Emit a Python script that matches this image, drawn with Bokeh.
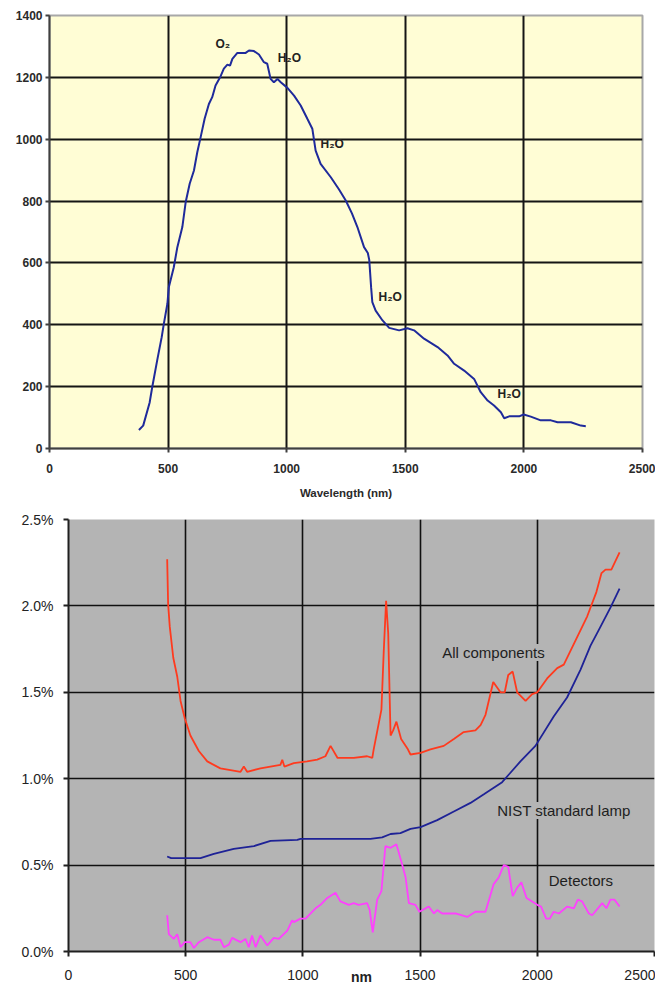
from bokeh.plotting import figure
from bokeh.models import FixedTicker, PrintfTickFormatter, Range1d, Label
from bokeh.embed import file_html
from bokeh.resources import INLINE

# ---- Solar spectral irradiance at ground level ----
sun_wl = [377, 395, 422, 433, 454, 473, 482, 497, 503, 524, 539, 560, 574, 591, 609,
          623, 637, 654, 672, 686, 700, 721, 735, 750, 761, 771, 792, 827, 841, 862,
          883, 904, 918, 932, 946, 961, 975, 1003, 1031, 1059, 1087, 1108, 1122, 1143,
          1186, 1220, 1249, 1275, 1298, 1326, 1342, 1348, 1356, 1361, 1375, 1404, 1432,
          1474, 1509, 1537, 1579, 1636, 1678, 1706, 1748, 1790, 1818, 1847, 1874, 1903,
          1917, 1938, 1980, 1999, 2029, 2071, 2114, 2142, 2198, 2240, 2261]
sun_irr = [60, 74, 148, 198, 285, 360, 403, 468, 521, 586, 651, 716, 796, 856, 899,
           958, 1006, 1066, 1114, 1136, 1174, 1203, 1228, 1241, 1238, 1260, 1279, 1279, 1287, 1285,
           1274, 1249, 1244, 1195, 1184, 1195, 1184, 1166, 1141, 1109, 1066, 1034, 963, 920,
           877, 838, 802, 760, 716, 651, 632, 610, 520, 473, 446, 414, 390,
           382, 389, 382, 355, 328, 301, 274, 252, 225, 182, 155, 139, 117,
           98, 104, 104, 110, 103, 91, 91, 85, 85, 74, 72]

# absorption band labels
band_text = ["O\u2082", "H\u2082O", "H\u2082O", "H\u2082O", "H\u2082O"]
band_x = [700, 962, 1143, 1387, 1889]
band_y = [1309, 1264, 983, 489, 177]

# ---- Calibration uncertainty (%) ----
all_wl = [421, 425, 432, 447, 464, 478, 496, 520, 556, 592, 648, 691, 734, 748, 762,
          819, 904, 912, 921, 961, 1018, 1061, 1096, 1118, 1148, 1217, 1274, 1296, 1302,
          1335, 1345, 1355, 1364, 1374, 1385, 1399, 1419, 1448, 1459, 1502, 1544, 1601,
          1644, 1686, 1736, 1758, 1779, 1812, 1843, 1861, 1876, 1895, 1914, 1950, 1978,
          2000, 2042, 2085, 2113, 2156, 2213, 2252, 2274, 2291, 2316, 2351]
all_pct = [2.27, 2.01, 1.88, 1.70, 1.59, 1.45, 1.35, 1.25, 1.16, 1.10, 1.06, 1.05, 1.04, 1.07, 1.04,
           1.06, 1.08, 1.11, 1.07, 1.09, 1.10, 1.11, 1.13, 1.19, 1.12, 1.12, 1.13, 1.12, 1.17,
           1.40, 1.74, 2.03, 1.84, 1.25, 1.28, 1.33, 1.23, 1.17, 1.14, 1.15, 1.17, 1.19,
           1.23, 1.27, 1.28, 1.31, 1.37, 1.56, 1.50, 1.50, 1.60, 1.62, 1.50, 1.45, 1.49,
           1.50, 1.58, 1.64, 1.66, 1.78, 1.94, 2.08, 2.19, 2.21, 2.21, 2.31]

lamp_wl = [421, 438, 563, 620, 705, 791, 862, 976, 990, 1288, 1338, 1374, 1416, 1459,
           1502, 1573, 1644, 1715, 1772, 1850, 1928, 1992, 2070, 2127, 2184, 2227, 2262,
           2312, 2351]
lamp_pct = [0.55, 0.54, 0.54, 0.565, 0.594, 0.61, 0.64, 0.646, 0.652, 0.652, 0.66, 0.68, 0.685, 0.71,
            0.72, 0.76, 0.81, 0.86, 0.91, 0.98, 1.10, 1.19, 1.36, 1.47, 1.63, 1.77, 1.86,
            1.99, 2.10]

det_wl = [421, 428, 449, 464, 478, 496, 520, 535, 556, 592, 620, 648, 663, 684, 698,
          734, 755, 769, 783, 798, 819, 848, 876, 897, 933, 954, 961, 990, 1011, 1054,
          1075, 1104, 1139, 1160, 1196, 1217, 1238, 1274, 1285, 1298, 1317, 1335, 1352,
          1374, 1399, 1424, 1438, 1452, 1480, 1497, 1537, 1559, 1573, 1594, 1651, 1701,
          1736, 1779, 1814, 1836, 1857, 1876, 1895, 1914, 1932, 1954, 2000, 2016, 2038,
          2053, 2070, 2092, 2127, 2156, 2173, 2191, 2220, 2234, 2277, 2295, 2312, 2329, 2351]
det_pct = [0.21, 0.10, 0.073, 0.10, 0.025, 0.054, 0.054, 0.02, 0.054, 0.083, 0.068, 0.068, 0.025, 0.04, 0.079,
           0.054, 0.073, 0.025, 0.093, 0.025, 0.093, 0.035, 0.079, 0.073, 0.12, 0.18, 0.17, 0.19, 0.19, 0.25,
           0.27, 0.31, 0.34, 0.29, 0.27, 0.28, 0.27, 0.28, 0.24, 0.11, 0.30, 0.35, 0.61,
           0.60, 0.62, 0.50, 0.43, 0.28, 0.27, 0.23, 0.26, 0.22, 0.24, 0.22, 0.22, 0.20,
           0.23, 0.23, 0.39, 0.43, 0.50, 0.49, 0.32, 0.37, 0.40, 0.31, 0.27, 0.26, 0.19,
           0.19, 0.23, 0.22, 0.26, 0.25, 0.30, 0.29, 0.22, 0.21, 0.28, 0.25, 0.30, 0.30, 0.26]

curve_text = ["All components", "NIST standard lamp", "Detectors"]
curve_x = [1594, 1829, 2049]
curve_y = [1.73, 0.816, 0.41]

x_ticks = [0, 500, 1000, 1500, 2000, 2500]
irr_ticks = [0, 200, 400, 600, 800, 1000, 1200, 1400]
pct_ticks = [0, 0.5, 1.0, 1.5, 2.0, 2.5]

FONT = "Liberation Sans"

# ---------------- upper panel ----------------
top = figure(width=655, height=505, x_range=Range1d(0, 2500), y_range=Range1d(0, 1400),
             output_backend="svg", toolbar_location=None,
             min_border_left=49, min_border_right=13, min_border_top=15, min_border_bottom=57)
top.background_fill_color = "#FFFDD5"
top.border_fill_color = "white"
top.outline_line_color = "#A8A8A8"
top.outline_line_width = 2
top.xaxis.ticker = FixedTicker(ticks=x_ticks)
top.yaxis.ticker = FixedTicker(ticks=irr_ticks)
for g in (top.xgrid, top.ygrid):
    g.grid_line_color = "#151515"
    g.grid_line_width = 2
for ax in (top.xaxis, top.yaxis):
    ax.axis_line_color = "#404040"
    ax.axis_line_width = 2
    ax.major_tick_line_color = "#404040"
    ax.major_tick_line_width = 2
    ax.major_tick_in = 0
    ax.major_tick_out = 4
    ax.minor_tick_line_color = None
    ax.major_label_text_font = FONT
    ax.major_label_text_font_style = "bold"
    ax.major_label_text_font_size = "12px"
    ax.major_label_text_color = "#2a2a2a"
top.xaxis.major_label_standoff = 11
top.yaxis.major_label_standoff = 3
top.xaxis.axis_label = "Wavelength (nm)"
top.xaxis.axis_label_text_font = FONT
top.xaxis.axis_label_text_font_style = "bold"
top.xaxis.axis_label_text_font_size = "11.5px"
top.xaxis.axis_label_text_color = "#2a2a2a"
top.xaxis.axis_label_standoff = 11

top.line(sun_wl, sun_irr, line_color="#1F2A9B", line_width=2)
for t, x, y in zip(band_text, band_x, band_y):
    top.add_layout(Label(x=x, y=y, text=t, text_font=FONT, text_font_style="bold",
                         text_font_size="12px", text_color="#222222",
                         text_align="left", text_baseline="middle"))

# ---------------- lower panel ----------------
bot = figure(width=655, height=484, x_range=Range1d(0, 2500), y_range=Range1d(0, 2.5),
             output_backend="svg", toolbar_location=None,
             min_border_left=68, min_border_right=1, min_border_top=14, min_border_bottom=38)
bot.background_fill_color = "#B4B4B4"
bot.border_fill_color = "white"
bot.outline_line_color = None
bot.xaxis.ticker = FixedTicker(ticks=x_ticks)
bot.yaxis.ticker = FixedTicker(ticks=pct_ticks)
bot.yaxis.formatter = PrintfTickFormatter(format="%.1f%%")
for g in (bot.xgrid, bot.ygrid):
    g.grid_line_color = "#101010"
    g.grid_line_width = 1.6
for ax in (bot.xaxis, bot.yaxis):
    ax.axis_line_color = "#202020"
    ax.axis_line_width = 2
    ax.major_tick_line_color = "#202020"
    ax.major_tick_line_width = 2
    ax.major_tick_in = 0
    ax.major_tick_out = 5
    ax.minor_tick_line_color = None
    ax.major_label_text_font = FONT
    ax.major_label_text_font_size = "14px"
    ax.major_label_text_color = "#222222"
bot.xaxis.major_label_standoff = 13
bot.yaxis.major_label_standoff = 10
bot.xaxis.axis_label = "nm"
bot.xaxis.axis_label_text_font = FONT
bot.xaxis.axis_label_text_font_style = "bold"
bot.xaxis.axis_label_text_font_size = "14px"
bot.xaxis.axis_label_text_color = "#222222"
bot.xaxis.axis_label_standoff = -14

bot.line(all_wl, all_pct, line_color="#FF3A1E", line_width=1.8)
bot.line(lamp_wl, lamp_pct, line_color="#1E2296", line_width=1.8)
bot.line(det_wl, det_pct, line_color="#FF40FF", line_width=1.8)
for t, x, y in zip(curve_text, curve_x, curve_y):
    bot.add_layout(Label(x=x, y=y, text=t, text_font=FONT, text_font_size="15px",
                         text_color="#1e1e1e", text_align="left", text_baseline="middle",
                         background_fill_color="#B4B4B4"))

# two independent roots, stacked top to bottom
open("out.html", "w").write(file_html([top, bot], INLINE))
